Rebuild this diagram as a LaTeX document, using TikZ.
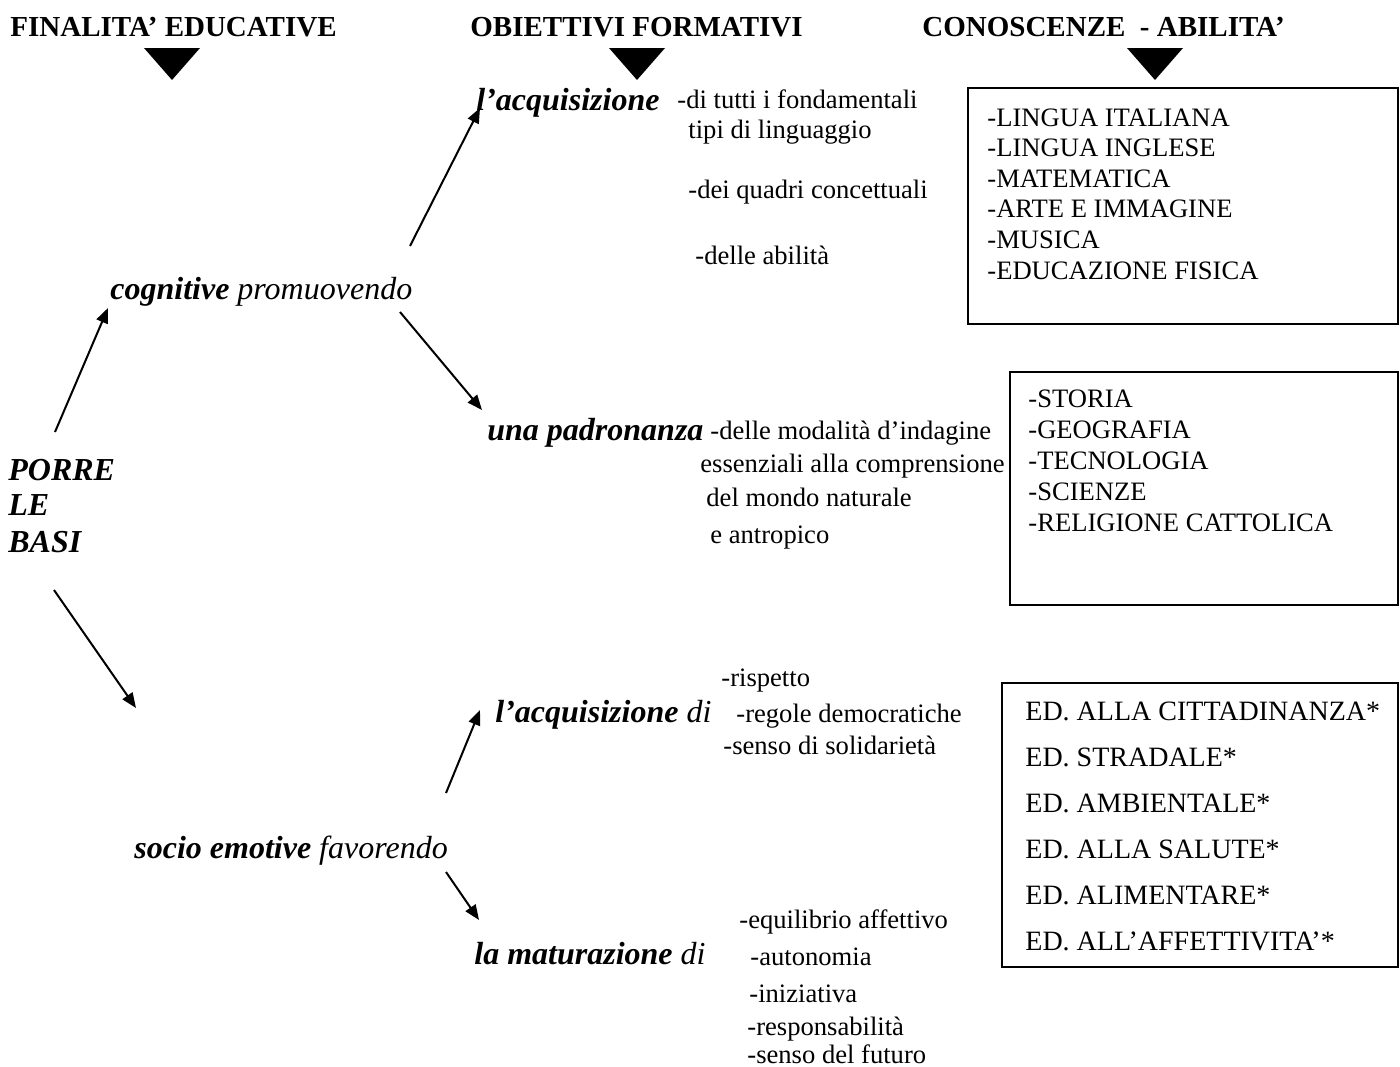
\documentclass[tikz,border=0pt]{standalone}
\usepackage{fontspec}
\setmainfont{Liberation Serif}
\usetikzlibrary{arrows.meta}

\begin{document}
\begin{tikzpicture}[x=0.5pt,y=-0.5pt,
            head/.style={anchor=base west,inner sep=0pt,
                font=\fontsize{14.5}{17}\selectfont\bfseries},
            key/.style={anchor=base west,inner sep=0pt,
                font=\fontsize{16}{18}\selectfont\itshape},
            basis/.style={key,font=\fontsize{16}{18}\selectfont\bfseries\itshape},
            item/.style={anchor=base west,inner sep=0pt,
                font=\fontsize{13.3}{15}\selectfont},
            edu/.style={item,font=\fontsize{14}{16}\selectfont},
            link/.style={-{Triangle[length=7.5pt,width=6pt]},line width=1pt},
            pane/.style={draw,line width=1pt}
        ]
        \useasboundingbox (0,0) rectangle (1400,1066);
        % column titles
        \node[head] (finalita) at (10,36) {FINALITA’ EDUCATIVE};
        \node[head] (obiettivi) at (470,36) {OBIETTIVI FORMATIVI};
        \node[head] (conoscenze) at (922,36) {CONOSCENZE \ - ABILITA’};
        \foreach \x in {172,637,1155}
            \fill (\x-28,48) -- (\x+28,48) -- (\x,80) -- cycle;

        % left column
        \node[basis] (porre) at (8,480) {PORRE};
        \node[basis] (le) at (8,515) {LE};
        \node[basis] (basi) at (8,552) {BASI};
        \node[key] (cognitive) at (110,299) {\textbf{cognitive} promuovendo};
        \node[key] (socio) at (134,858) {\textbf{socio emotive} favorendo};

        % middle column
        \node[key] (acq) at (476,110) {\textbf{l’acquisizione}};
        \node[item] (acq1) at (677,108) {-di tutti i fondamentali};
        \node[item] (acq2) at (688,138) {tipi di linguaggio};
        \node[item] (acq3) at (688,198) {-dei quadri concettuali};
        \node[item] (acq4) at (695,264) {-delle abilità};

        \node[key] (padr) at (487,440) {\textbf{una padronanza}};
        \node[item] (padr1) at (710,439) {-delle modalità d’indagine};
        \node[item] (padr2) at (700,472) {essenziali alla comprensione};
        \node[item] (padr3) at (706,506) {del mondo naturale};
        \node[item] (padr4) at (710,543) {e antropico};

        \node[key] (acqdi) at (495,722) {\textbf{l’acquisizione} di};
        \node[item] (acqdi1) at (721,686) {-rispetto};
        \node[item] (acqdi2) at (736,722) {-regole democratiche};
        \node[item] (acqdi3) at (723,754) {-senso di solidarietà};

        \node[key] (matur) at (474,964) {\textbf{la maturazione} di};
        \node[item] (matur1) at (739,928) {-equilibrio affettivo};
        \node[item] (matur2) at (750,965) {-autonomia};
        \node[item] (matur3) at (749,1002) {-iniziativa};
        \node[item] (matur4) at (747,1035) {-responsabilità};
        \node[item] (matur5) at (747,1063) {-senso del futuro};

        % right column boxes
        \draw[pane] (968,88) rectangle (1398,324);
        \foreach \t [count=\i from 0] in {-LINGUA ITALIANA,-LINGUA INGLESE,
                -MATEMATICA,-ARTE E IMMAGINE,-MUSICA,-EDUCAZIONE FISICA}
            \node[item] (lingua\i) at ({987},{126+30.6*\i}) {\t};
        \draw[pane] (1010,372) rectangle (1398,605);
        \foreach \t [count=\i from 0] in {-STORIA,-GEOGRAFIA,-TECNOLOGIA,
                -SCIENZE,-RELIGIONE CATTOLICA}
            \node[item] (storia\i) at ({1028},{407+31*\i}) {\t};
        \draw[pane] (1002,683) rectangle (1398,967);
        \foreach \t [count=\i from 0] in {ED. ALLA CITTADINANZA*,ED. STRADALE*,
                ED. AMBIENTALE*,ED. ALLA SALUTE*,ED. ALIMENTARE*,ED. ALL’AFFETTIVITA’*}
            \node[edu] (ed\i) at ({1025},{720+46*\i}) {\t};

        % arrows
        \draw[link] ([shift={(47,-48)}]porre.base west) -- ([shift={(-2,9)}]cognitive.base west);
        \draw[link] ([shift={(46,38)}]basi.base west) -- ([shift={(2,-150)}]socio.base west);
        \draw[link] ([shift={(300,-53)}]cognitive.base west) -- ([shift={(4,-2)}]acq.base west);
        \draw[link] ([shift={(290,13)}]cognitive.base west) -- ([shift={(-5,-30)}]padr.base west);
        \draw[link] ([shift={(312,-65)}]socio.base west) -- ([shift={(-15,-12)}]acqdi.base west);
        \draw[link] ([shift={(312,14)}]socio.base west) -- ([shift={(5,-44)}]matur.base west);
    \end{tikzpicture}
\end{document}
